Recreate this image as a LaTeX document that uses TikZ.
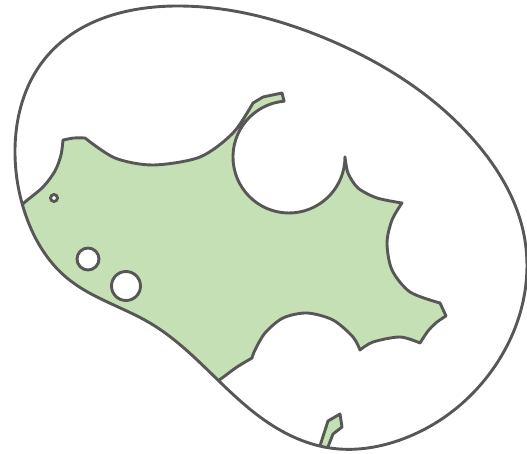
\documentclass[tikz,border=0pt]{standalone}
\usetikzlibrary{hobby}
\definecolor{leafgreen}{HTML}{C5E0B4}
\definecolor{edgegray}{HTML}{575757}

\begin{document}
\begin{tikzpicture}[x=1pt,y=-1pt,
  edge/.style={draw=edgegray,line width=2.9pt,line join=round},
  hole/.style={edge,fill=white}]
\useasboundingbox (0,0) rectangle (527,454);
% outer blob
\path[save path=\blobpath] plot[closed hobby] coordinates {(15,150) (48,55) (177,6) (327,39) (478,145) (524,235) (487,377) (400,440) (330,448) (260,417) (150,323) (67,278) (24,210)};
\begin{scope}
\clip[use path=\blobpath];
% green region
\filldraw[edge,fill=leafgreen] (0,214) -- (12,214)
  -- plot[smooth] coordinates {(12,214) (25,202) (43,187) (55,171) (61,155) (63,140)}
  -- plot[smooth] coordinates {(63,140) (74,138) (85,138)}
  -- plot[smooth] coordinates {(85,138) (115,158) (153,165) (200,157) (233,133) (253,103)}
  -- (263,97) -- (282,93) -- (284.1,101.2)
  arc[start angle=265,end angle=0,radius=56]
  -- plot[smooth] coordinates {(345,157) (348,173) (358,188) (377,198) (402,203)}
  -- plot[smooth] coordinates {(402,203) (392,220) (387,243) (392,270) (410,292) (440,303)}
  -- (446,316)
  -- plot[smooth] coordinates {(446,316) (437,322) (428,331) (420,343)}
  -- plot[smooth] coordinates {(420,343) (400,337) (373,342) (360,350)}
  -- plot[smooth] coordinates {(360,350) (353,337) (333,320) (307,313) (283,318) (265,333) (255,350) (252,358)}
  -- plot[smooth] coordinates {(252,358) (237,367) (222,378) (210,387)}
  -- (150,420) -- (0,420) -- cycle;
% small leaf at the bottom
\filldraw[edge,fill=leafgreen] (318,452) -- (328,421) -- (340,414) -- (342,427) -- (333,434) -- (326,452) -- cycle;
\end{scope}
% holes
\draw[hole] (54,198) circle[radius=3.5];
\draw[hole] (88,259) circle[radius=11];
\draw[hole] (126,286) circle[radius=14.5];
\draw[edge,use path=\blobpath];
\end{tikzpicture}
\end{document}
